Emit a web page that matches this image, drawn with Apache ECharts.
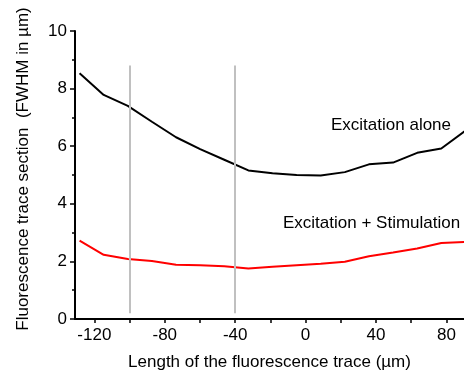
<!DOCTYPE html>
<html>
<head>
<meta charset="utf-8">
<script src="https://cdn.jsdelivr.net/npm/echarts@6/dist/echarts.min.js"></script>
<style>html,body{margin:0;padding:0;background:#fff;}#c{width:464px;height:379px;}</style>
</head>
<body>
<div id="c"></div>
<script>
const positions = [-128.4, -114.7, -101, -87.3, -73.6, -59.9, -46.2, -32.5, -18.8, -5.1, 8.6, 22.3, 36, 49.7, 63.4, 77.1, 90.8];
const excitationAlone = [8.53, 7.78, 7.40, 6.85, 6.31, 5.90, 5.53, 5.16, 5.06, 5.00, 4.98, 5.10, 5.37, 5.43, 5.77, 5.92, 6.54];
const excitationStim = [2.72, 2.23, 2.08, 2.01, 1.88, 1.87, 1.83, 1.75, 1.81, 1.87, 1.92, 1.99, 2.18, 2.31, 2.45, 2.64, 2.68];
const xTicks = [-120, -80, -40, 0, 40, 80];
const xMinorTicks = [-100, -60, -20, 20, 60];
const markerX = [-100, -40];
const markerRange = [0.2, 8.8];
const labelAlone = 'Excitation alone';
const labelStim = 'Excitation + Stimulation';

const font = 'Liberation Sans, Arial, sans-serif';
const chart = echarts.init(document.getElementById('c'));
const pair = (xs, ys) => xs.map((x, i) => [x, ys[i]]);
const allXTicks = xTicks.concat(xMinorTicks).sort((a, b) => a - b);

chart.setOption({
  animation: false,
  grid: { left: 75, right: 0, top: 31, bottom: 60, containLabel: false },
  xAxis: {
    type: 'value', min: -131, max: 90,
    axisLine: { show: true, onZero: false, lineStyle: { color: '#000', width: 2 } },
    axisTick: { show: true, customValues: allXTicks, length: 4, lineStyle: { color: '#000', width: 1.5 } },
    axisLabel: { customValues: xTicks, color: '#000', fontSize: 17, fontFamily: font, margin: 8 },
    splitLine: { show: false },
    name: 'Length of the fluorescence trace (µm)',
    nameLocation: 'middle', nameGap: 35,
    nameTextStyle: { color: '#000', fontSize: 17, fontFamily: font }
  },
  yAxis: {
    type: 'value', min: 0, max: 10, interval: 2,
    axisLine: { show: true, onZero: false, lineStyle: { color: '#000', width: 2 } },
    axisTick: { show: true, length: 5, lineStyle: { color: '#000', width: 1.5 } },
    minorTick: { show: true, splitNumber: 2, length: 3, lineStyle: { color: '#000', width: 1.5 } },
    axisLabel: { color: '#000', fontSize: 17, fontFamily: font, margin: 8 },
    splitLine: { show: false },
    name: 'Fluorescence trace section  (FWHM in µm)',
    nameLocation: 'middle', nameGap: 43,
    nameTextStyle: { color: '#000', fontSize: 17, fontFamily: font, padding: [0, 0, 0, 12] }
  },
  series: [{
    type: 'line', data: pair(positions, excitationAlone), symbol: 'none',
    lineStyle: { color: '#000', width: 2 }, z: 3,
    markLine: {
      silent: true, symbol: 'none', label: { show: false },
      lineStyle: { color: '#c0c0c0', width: 2, type: 'solid' },
      data: markerX.map(x => [{ coord: [x, markerRange[0]] }, { coord: [x, markerRange[1]] }])
    }
  }, {
    type: 'line', data: pair(positions, excitationStim), symbol: 'none',
    lineStyle: { color: '#ff0000', width: 2 }, z: 3
  }],
  graphic: [{
    type: 'text', left: 331, top: 117,
    style: { text: labelAlone, fill: '#000', fontSize: 17, fontFamily: font }
  }, {
    type: 'text', left: 283, top: 215,
    style: { text: labelStim, fill: '#000', fontSize: 17, fontFamily: font }
  }]
});
</script>
</body>
</html>
